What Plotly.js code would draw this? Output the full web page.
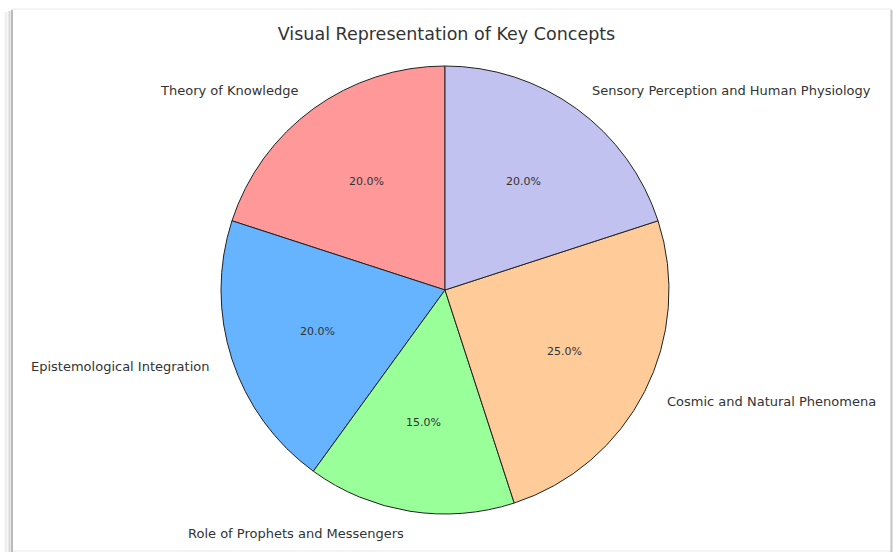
<!DOCTYPE html>
<html>
<head>
<meta charset="utf-8">
<script src="https://cdn.plot.ly/plotly-3.0.1.min.js"></script>
<style>
  body { margin: 0; background: #fff; }
  #chart { width: 893px; height: 553px; }
</style>
</head>
<body>
<div id="chart"></div>
<script>
// slices, counter-clockwise from 12 o'clock
const concepts = [
    "Theory of Knowledge",
    "Epistemological Integration",
    "Role of Prophets and Messengers",
    "Cosmic and Natural Phenomena",
    "Sensory Perception and Human Physiology"
];
const shares = [20, 20, 15, 25, 20];
const sliceColors = ["#ff9999", "#66b3ff", "#99ff99", "#ffcc99", "#c2c2f0"];

const W = 893, H = 553;
// pie box in pixels -> paper coords
const cx = 445, cy = 290, r = 224;
const dom = {
    x: [(cx - r) / W, (cx + r) / W],
    y: [(H - cy - r) / H, (H - cy + r) / H]
};

const txt = "#333333";
const fam = "DejaVu Sans, sans-serif";
const total = shares.reduce((a, b) => a + b, 0);

// plotly adds the first slice to the start angle when going counter-clockwise
const rot = -shares[0] / total * 360;

// labels like matplotlib: names at 1.1 r, percents at 0.6 r
const annotations = [];
let cum = 0;
shares.forEach((v, i) => {
    let ang = (90 + 360 * (cum + v / 2) / total) * Math.PI / 180;
    cum += v;
    let c = Math.cos(ang), s = Math.sin(ang);
    annotations.push({
        xref: "paper", yref: "paper",
        x: (cx + 1.1 * r * c) / W, y: (H - cy + 1.1 * r * s) / H,
        text: concepts[i], showarrow: false,
        xanchor: c > 0 ? "left" : "right", yanchor: "middle",
        font: {family: fam, size: 13, color: txt}
    });
    annotations.push({
        xref: "paper", yref: "paper",
        x: (cx + 0.6 * r * c) / W, y: (H - cy + 0.6 * r * s) / H,
        text: (v / total * 100).toFixed(1) + "%", showarrow: false,
        xanchor: "center", yanchor: "middle",
        font: {family: fam, size: 11, color: txt}
    });
});

const data = [
    {
        type: "pie",
        labels: concepts,
        values: shares,
        sort: false,
        direction: "counterclockwise",
        rotation: rot,
        domain: dom,
        marker: {colors: sliceColors, line: {color: "#222222", width: 1}},
        textinfo: "none",
        hoverinfo: "label+percent",
        showlegend: false
    }
];

const layout = {
    width: W,
    height: H,
    margin: {l: 0, r: 0, t: 0, b: 0},
    paper_bgcolor: "#ffffff",
    title: {
        text: "Visual Representation of Key Concepts",
        font: {family: fam, size: 17.5, color: txt},
        x: 0.5, xanchor: "center",
        y: 1 - 34 / H, yanchor: "middle"
    },
    annotations: annotations,
    shapes: [
        // screenshot frame with its soft shadow
        {type: "rect", xref: "paper", yref: "paper", x0: 12 / W, x1: 891 / W, y0: 1 - 551 / H, y1: 1 - 9 / H,
         line: {color: "#e8e8e8", width: 1}, layer: "below"},
        {type: "line", xref: "paper", yref: "paper", x0: 6 / W, x1: 6 / W, y0: 1 - 552 / H, y1: 1 - 12 / H,
         line: {color: "#f0f0f0", width: 3}},
        {type: "line", xref: "paper", yref: "paper", x0: 9.5 / W, x1: 9.5 / W, y0: 1 - 552 / H, y1: 1 - 11 / H,
         line: {color: "#d6d6d6", width: 2}},
        {type: "line", xref: "paper", yref: "paper", x0: 12 / W, x1: 12 / W, y0: 1 - 552 / H, y1: 1 - 10 / H,
         line: {color: "#a8a8a8", width: 1.5}},
        {type: "line", xref: "paper", yref: "paper", x0: 891.5 / W, x1: 891.5 / W, y0: 1 - 552 / H, y1: 1 - 10 / H,
         line: {color: "#c4c4c4", width: 2}}
    ]
};

Plotly.newPlot("chart", data, layout, {displayModeBar: false, staticPlot: true});
</script>
</body>
</html>
